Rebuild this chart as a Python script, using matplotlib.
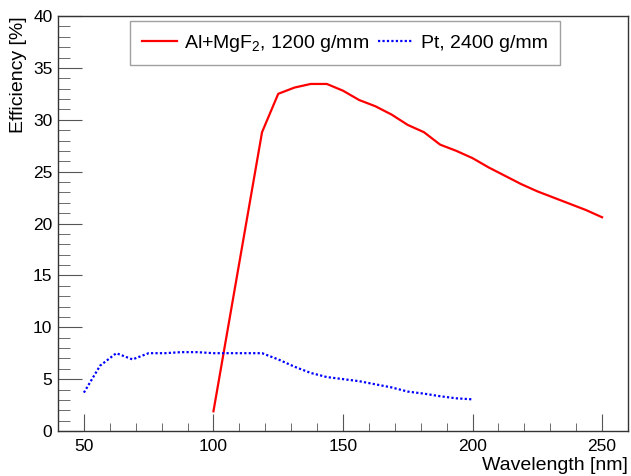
import matplotlib
matplotlib.use("Agg")
import matplotlib.pyplot as plt
from matplotlib.ticker import MultipleLocator

plt.rcParams['font.family'] = ['Liberation Sans', 'DejaVu Sans']
plt.rcParams['mathtext.default'] = 'regular'

# Al+MgF2, 1200 g/mm
wl_al = [100, 118.75, 125, 131.25, 137.5, 143.75, 150, 156.25, 162.5, 168.75,
         175, 181.25, 187.5, 193.75, 200, 206.25, 212.5, 218.75, 225, 231.25,
         237.5, 243.75, 250]
eff_al = [1.9, 28.8, 32.5, 33.1, 33.45, 33.45, 32.8, 31.9, 31.3, 30.5,
          29.5, 28.8, 27.6, 27.0, 26.3, 25.4, 24.6, 23.8, 23.1, 22.5,
          21.9, 21.3, 20.6]

# Pt, 2400 g/mm
wl_pt = [50, 56.25, 62.5, 68.75, 75, 81.25, 87.5, 93.75, 100, 106.25, 112.5,
         118.75, 125, 131.25, 137.5, 143.75, 150, 156.25, 162.5, 168.75, 175,
         181.25, 187.5, 193.75, 200]
eff_pt = [3.7, 6.3, 7.5, 6.9, 7.5, 7.5, 7.6, 7.6, 7.5, 7.5, 7.5,
          7.5, 6.9, 6.2, 5.6, 5.2, 5.0, 4.8, 4.5, 4.2, 3.8,
          3.6, 3.35, 3.15, 3.05]

fig = plt.figure(figsize=(6.31, 4.76), dpi=100)
ax = fig.add_axes([58/631, 1-431/476, 570/631, 415/476])

ax.plot(wl_al, eff_al, color='#ff0000', lw=1.6, label='Al+MgF$_2$, 1200 g/mm')
ax.plot(wl_pt, eff_pt, color='#0000ff', lw=1.6, ls=(0, (1, 1)), label='Pt, 2400 g/mm')

ax.set_xlim(40, 260)
ax.set_ylim(0, 40)
ax.xaxis.set_major_locator(MultipleLocator(50))
ax.xaxis.set_minor_locator(MultipleLocator(10))
ax.yaxis.set_major_locator(MultipleLocator(5))
ax.yaxis.set_minor_locator(MultipleLocator(1))
ax.tick_params(which='both', direction='in', top=False, right=False,
               labelsize=12.5, color='#555555')
ax.tick_params(axis='y', which='major', length=17, pad=4)
ax.tick_params(axis='y', which='minor', length=8.5)
ax.tick_params(axis='x', which='major', length=12.5, pad=6)
ax.tick_params(axis='x', which='minor', length=6)
for s in ax.spines.values():
    s.set_color('#333333')
    s.set_linewidth(1.0)

ax.set_xlabel('Wavelength [nm]', fontsize=14, loc='right', labelpad=2)
ax.set_ylabel('Efficiency [%]', fontsize=14, loc='top', labelpad=4)

leg = ax.legend(loc='upper left', bbox_to_anchor=(130/631, 1-21/476),
                bbox_transform=fig.transFigure, ncol=2, fontsize=14,
                frameon=True, fancybox=False, edgecolor='#888888',
                borderaxespad=0, handlelength=1.8, columnspacing=0.45,
                handletextpad=0.4, borderpad=0.6)
leg.get_frame().set_linewidth(1.0)

fig.savefig('out.png', dpi=100)
